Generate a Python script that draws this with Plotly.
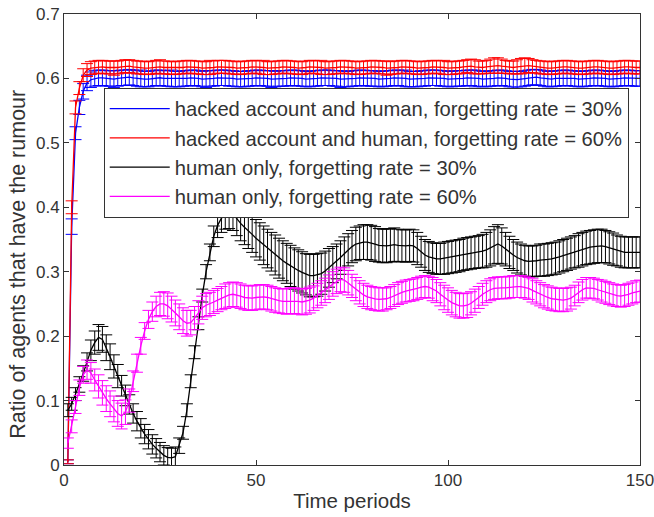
import plotly.graph_objects as go

periods = list(range(1, 151))

blue_mean = [
    0.005, 0.370, 0.515, 0.555, 0.580, 0.593, 0.598, 0.600, 0.601, 0.601,
    0.600, 0.600, 0.599, 0.600, 0.601, 0.601, 0.602, 0.601, 0.600, 0.600,
    0.599, 0.599, 0.600, 0.601, 0.601, 0.600, 0.600, 0.600, 0.599, 0.599,
    0.600, 0.600, 0.601, 0.601, 0.600, 0.599, 0.599, 0.600, 0.600, 0.601,
    0.601, 0.601, 0.600, 0.600, 0.599, 0.599, 0.599, 0.600, 0.600, 0.601,
    0.601, 0.600, 0.600, 0.599, 0.599, 0.600, 0.600, 0.600, 0.601, 0.601,
    0.600, 0.600, 0.599, 0.599, 0.600, 0.600, 0.601, 0.601, 0.601, 0.600,
    0.600, 0.599, 0.599, 0.599, 0.600, 0.600, 0.601, 0.601, 0.600, 0.600,
    0.600, 0.599, 0.599, 0.600, 0.600, 0.601, 0.601, 0.600, 0.600, 0.599,
    0.599, 0.599, 0.600, 0.600, 0.601, 0.601, 0.601, 0.600, 0.600, 0.599,
    0.599, 0.600, 0.600, 0.600, 0.601, 0.601, 0.600, 0.600, 0.599, 0.599,
    0.600, 0.600, 0.601, 0.601, 0.600, 0.599, 0.598, 0.598, 0.599, 0.600,
    0.601, 0.602, 0.602, 0.601, 0.600, 0.599, 0.599, 0.600, 0.600, 0.601,
    0.601, 0.600, 0.600, 0.599, 0.599, 0.600, 0.600, 0.601, 0.601, 0.600,
    0.600, 0.599, 0.599, 0.600, 0.600, 0.601, 0.601, 0.600, 0.600, 0.600,
]
blue_err = [
    0.003, 0.012, 0.010, 0.011, 0.012, 0.012, 0.012, 0.012, 0.012, 0.012,
    0.012, 0.012, 0.013, 0.012, 0.012, 0.012, 0.012, 0.012, 0.012, 0.013,
    0.012, 0.012, 0.012, 0.012, 0.012, 0.012, 0.012, 0.013, 0.012, 0.012,
    0.012, 0.012, 0.012, 0.012, 0.012, 0.012, 0.013, 0.012, 0.012, 0.012,
    0.012, 0.012, 0.012, 0.012, 0.012, 0.012, 0.012, 0.012, 0.012, 0.012,
    0.012, 0.012, 0.012, 0.013, 0.012, 0.012, 0.012, 0.012, 0.012, 0.012,
    0.012, 0.012, 0.012, 0.012, 0.012, 0.012, 0.012, 0.012, 0.012, 0.012,
    0.012, 0.013, 0.012, 0.012, 0.012, 0.012, 0.012, 0.012, 0.012, 0.012,
    0.012, 0.012, 0.012, 0.012, 0.012, 0.012, 0.012, 0.012, 0.013, 0.012,
    0.012, 0.012, 0.012, 0.012, 0.012, 0.012, 0.012, 0.012, 0.012, 0.012,
    0.012, 0.012, 0.012, 0.012, 0.012, 0.012, 0.013, 0.012, 0.012, 0.012,
    0.012, 0.012, 0.012, 0.012, 0.012, 0.012, 0.013, 0.013, 0.012, 0.012,
    0.012, 0.012, 0.012, 0.012, 0.012, 0.012, 0.012, 0.012, 0.012, 0.012,
    0.012, 0.012, 0.012, 0.012, 0.012, 0.012, 0.012, 0.012, 0.012, 0.012,
    0.012, 0.012, 0.012, 0.012, 0.012, 0.012, 0.012, 0.012, 0.012, 0.012,
]

red_mean = [
    0.005, 0.400, 0.555, 0.585, 0.605, 0.613, 0.616, 0.617, 0.618, 0.618,
    0.617, 0.617, 0.616, 0.617, 0.618, 0.619, 0.619, 0.618, 0.617, 0.617,
    0.616, 0.616, 0.617, 0.618, 0.618, 0.617, 0.617, 0.616, 0.616, 0.617,
    0.617, 0.618, 0.618, 0.617, 0.617, 0.616, 0.616, 0.617, 0.617, 0.618,
    0.618, 0.618, 0.617, 0.617, 0.616, 0.616, 0.617, 0.617, 0.618, 0.618,
    0.617, 0.617, 0.616, 0.616, 0.617, 0.617, 0.618, 0.618, 0.617, 0.617,
    0.616, 0.616, 0.617, 0.618, 0.618, 0.617, 0.617, 0.616, 0.616, 0.617,
    0.617, 0.618, 0.618, 0.617, 0.617, 0.616, 0.616, 0.617, 0.617, 0.618,
    0.618, 0.617, 0.617, 0.616, 0.616, 0.617, 0.617, 0.618, 0.618, 0.617,
    0.617, 0.616, 0.616, 0.617, 0.617, 0.618, 0.618, 0.617, 0.617, 0.616,
    0.616, 0.617, 0.617, 0.618, 0.619, 0.619, 0.618, 0.617, 0.617, 0.618,
    0.619, 0.620, 0.620, 0.619, 0.618, 0.617, 0.617, 0.618, 0.619, 0.620,
    0.620, 0.619, 0.618, 0.617, 0.617, 0.616, 0.616, 0.617, 0.617, 0.618,
    0.618, 0.617, 0.617, 0.616, 0.616, 0.617, 0.617, 0.618, 0.618, 0.617,
    0.617, 0.616, 0.616, 0.617, 0.617, 0.618, 0.618, 0.617, 0.617, 0.617,
]
red_err = [
    0.003, 0.010, 0.010, 0.010, 0.010, 0.010, 0.010, 0.010, 0.010, 0.010,
    0.010, 0.010, 0.011, 0.010, 0.010, 0.010, 0.010, 0.010, 0.010, 0.010,
    0.010, 0.010, 0.010, 0.010, 0.011, 0.010, 0.010, 0.010, 0.010, 0.010,
    0.010, 0.010, 0.010, 0.010, 0.010, 0.010, 0.010, 0.011, 0.010, 0.010,
    0.010, 0.010, 0.010, 0.010, 0.010, 0.010, 0.010, 0.010, 0.010, 0.010,
    0.010, 0.011, 0.010, 0.010, 0.010, 0.010, 0.010, 0.010, 0.010, 0.010,
    0.010, 0.010, 0.010, 0.010, 0.010, 0.010, 0.011, 0.010, 0.010, 0.010,
    0.010, 0.010, 0.010, 0.010, 0.010, 0.010, 0.010, 0.010, 0.010, 0.010,
    0.010, 0.010, 0.010, 0.011, 0.010, 0.010, 0.010, 0.010, 0.010, 0.010,
    0.010, 0.010, 0.010, 0.010, 0.010, 0.010, 0.010, 0.010, 0.011, 0.010,
    0.010, 0.010, 0.010, 0.010, 0.010, 0.011, 0.011, 0.010, 0.010, 0.010,
    0.011, 0.012, 0.012, 0.011, 0.010, 0.010, 0.010, 0.011, 0.012, 0.012,
    0.011, 0.010, 0.010, 0.010, 0.010, 0.010, 0.010, 0.010, 0.010, 0.010,
    0.010, 0.010, 0.010, 0.010, 0.010, 0.010, 0.010, 0.010, 0.010, 0.010,
    0.010, 0.010, 0.010, 0.010, 0.010, 0.010, 0.010, 0.010, 0.010, 0.010,
]

black_mean = [
    0.085, 0.095, 0.110, 0.125, 0.142, 0.160, 0.178, 0.190, 0.198, 0.195,
    0.182, 0.168, 0.153, 0.138, 0.123, 0.108, 0.094, 0.080, 0.068, 0.057,
    0.048, 0.040, 0.032, 0.026, 0.020, 0.015, 0.012, 0.011, 0.013, 0.030,
    0.050, 0.085, 0.130, 0.175, 0.220, 0.263, 0.300, 0.330, 0.355, 0.372,
    0.383, 0.390, 0.392, 0.390, 0.382, 0.375, 0.369, 0.364, 0.358, 0.352,
    0.347, 0.341, 0.336, 0.331, 0.326, 0.321, 0.317, 0.313, 0.309, 0.305,
    0.302, 0.299, 0.296, 0.294, 0.294, 0.295, 0.297, 0.301, 0.306, 0.311,
    0.316, 0.322, 0.328, 0.334, 0.339, 0.343, 0.345, 0.346, 0.346, 0.345,
    0.343, 0.341, 0.340, 0.340, 0.341, 0.342, 0.341, 0.340, 0.340, 0.341,
    0.340, 0.336, 0.331, 0.326, 0.323, 0.321, 0.320, 0.320, 0.321, 0.322,
    0.323, 0.324, 0.325, 0.327, 0.328, 0.329, 0.330, 0.331, 0.332, 0.334,
    0.337, 0.341, 0.343, 0.340, 0.335, 0.330, 0.326, 0.322, 0.319, 0.317,
    0.316, 0.316, 0.317, 0.318, 0.318, 0.319, 0.320, 0.321, 0.323, 0.325,
    0.327, 0.329, 0.331, 0.333, 0.335, 0.337, 0.338, 0.339, 0.340, 0.340,
    0.339, 0.337, 0.335, 0.333, 0.331, 0.330, 0.330, 0.330, 0.330, 0.330,
]
black_err = [
    0.010, 0.010, 0.010, 0.012, 0.012, 0.014, 0.016, 0.018, 0.020, 0.020,
    0.020, 0.020, 0.018, 0.018, 0.016, 0.016, 0.015, 0.015, 0.015, 0.015,
    0.015, 0.015, 0.015, 0.015, 0.015, 0.015, 0.015, 0.015, 0.015, 0.012,
    0.010, 0.010, 0.010, 0.010, 0.010, 0.010, 0.011, 0.013, 0.016, 0.019,
    0.022, 0.024, 0.025, 0.026, 0.026, 0.027, 0.027, 0.028, 0.028, 0.029,
    0.029, 0.030, 0.030, 0.030, 0.031, 0.031, 0.031, 0.031, 0.032, 0.032,
    0.032, 0.032, 0.032, 0.033, 0.033, 0.033, 0.032, 0.031, 0.030, 0.028,
    0.027, 0.026, 0.026, 0.025, 0.025, 0.026, 0.026, 0.027, 0.027, 0.027,
    0.027, 0.026, 0.026, 0.026, 0.026, 0.026, 0.025, 0.025, 0.025, 0.025,
    0.025, 0.025, 0.024, 0.024, 0.024, 0.024, 0.024, 0.024, 0.025, 0.025,
    0.025, 0.025, 0.025, 0.025, 0.025, 0.025, 0.025, 0.025, 0.026, 0.027,
    0.028, 0.029, 0.030, 0.028, 0.026, 0.025, 0.024, 0.024, 0.024, 0.024,
    0.024, 0.024, 0.024, 0.025, 0.025, 0.025, 0.025, 0.025, 0.025, 0.025,
    0.025, 0.025, 0.025, 0.026, 0.026, 0.026, 0.026, 0.026, 0.026, 0.026,
    0.025, 0.025, 0.025, 0.024, 0.024, 0.024, 0.024, 0.024, 0.024, 0.024,
]

magenta_mean = [
    0.034, 0.060, 0.090, 0.120, 0.140, 0.148, 0.143, 0.132, 0.122, 0.112,
    0.103, 0.095, 0.087, 0.080, 0.076, 0.082, 0.100, 0.130, 0.158, 0.185,
    0.208, 0.226, 0.238, 0.246, 0.250, 0.250, 0.247, 0.242, 0.236, 0.230,
    0.224, 0.220, 0.221, 0.228, 0.237, 0.244, 0.248, 0.250, 0.253, 0.256,
    0.259, 0.262, 0.264, 0.265, 0.264, 0.262, 0.260, 0.259, 0.259, 0.260,
    0.261, 0.261, 0.260, 0.258, 0.256, 0.255, 0.254, 0.254, 0.255, 0.255,
    0.254, 0.253, 0.254, 0.256, 0.259, 0.263, 0.267, 0.271, 0.276, 0.281,
    0.285, 0.288, 0.287, 0.283, 0.278, 0.273, 0.268, 0.264, 0.261, 0.259,
    0.258, 0.257, 0.257, 0.258, 0.260, 0.263, 0.266, 0.268, 0.270, 0.271,
    0.272, 0.274, 0.276, 0.277, 0.276, 0.273, 0.270, 0.265, 0.260, 0.256,
    0.252, 0.249, 0.247, 0.247, 0.248, 0.251, 0.255, 0.260, 0.265, 0.269,
    0.272, 0.274, 0.275, 0.275, 0.275, 0.276, 0.277, 0.277, 0.277, 0.276,
    0.274, 0.271, 0.268, 0.265, 0.262, 0.260, 0.258, 0.257, 0.256, 0.256,
    0.257, 0.259, 0.263, 0.268, 0.272, 0.275, 0.275, 0.274, 0.272, 0.270,
    0.268, 0.266, 0.264, 0.263, 0.262, 0.263, 0.265, 0.267, 0.269, 0.270,
]
magenta_err = [
    0.008, 0.010, 0.010, 0.012, 0.013, 0.015, 0.016, 0.017, 0.018, 0.019,
    0.020, 0.020, 0.020, 0.020, 0.020, 0.019, 0.018, 0.016, 0.014, 0.013,
    0.013, 0.014, 0.015, 0.016, 0.018, 0.019, 0.020, 0.020, 0.020, 0.020,
    0.020, 0.020, 0.019, 0.018, 0.018, 0.018, 0.018, 0.018, 0.018, 0.018,
    0.018, 0.019, 0.019, 0.019, 0.019, 0.019, 0.019, 0.019, 0.019, 0.019,
    0.019, 0.019, 0.019, 0.019, 0.019, 0.019, 0.019, 0.020, 0.020, 0.020,
    0.020, 0.020, 0.020, 0.020, 0.019, 0.019, 0.019, 0.019, 0.019, 0.019,
    0.019, 0.019, 0.019, 0.019, 0.018, 0.018, 0.018, 0.018, 0.018, 0.018,
    0.018, 0.018, 0.018, 0.017, 0.017, 0.017, 0.017, 0.017, 0.017, 0.017,
    0.017, 0.017, 0.017, 0.017, 0.017, 0.018, 0.018, 0.018, 0.019, 0.019,
    0.019, 0.019, 0.019, 0.019, 0.019, 0.018, 0.018, 0.017, 0.017, 0.017,
    0.017, 0.017, 0.017, 0.017, 0.017, 0.017, 0.017, 0.017, 0.017, 0.017,
    0.017, 0.018, 0.018, 0.018, 0.018, 0.018, 0.018, 0.018, 0.018, 0.018,
    0.018, 0.017, 0.016, 0.016, 0.016, 0.016, 0.016, 0.016, 0.016, 0.017,
    0.017, 0.017, 0.017, 0.017, 0.017, 0.017, 0.017, 0.017, 0.017, 0.017,
]

series_names = [
    "hacked account and human, forgetting rate = 30%",
    "hacked account and human, forgetting rate = 60%",
    "human only, forgetting rate = 30%",
    "human only, forgetting rate = 60%",
]
series_colors = ["#0000ff", "#ff0000", "#000000", "#ff00ff"]
series_means = [blue_mean, red_mean, black_mean, magenta_mean]
series_errs = [blue_err, red_err, black_err, magenta_err]

x_ticks = [0, 50, 100, 150]
y_ticks = [0, 0.1, 0.2, 0.3, 0.4, 0.5, 0.6, 0.7]
x_title = "Time periods"
y_title = "Ratio of agents that have the rumour"

FONT = "Liberation Sans, Arial, sans-serif"
TXT = "#333333"

fig = go.Figure()
for name, color, mean, err in zip(series_names, series_colors, series_means, series_errs):
    fig.add_trace(go.Scatter(
        x=periods, y=mean, name=name, mode="lines",
        line=dict(color=color, width=1.3),
        error_y=dict(type="data", array=err, visible=True, color=color, thickness=1, width=6),
    ))

fig.add_annotation(
    text=y_title, xref="paper", yref="paper", x=-0.08, y=0.446,
    xanchor="center", yanchor="middle", textangle=-90, showarrow=False,
    font=dict(family=FONT, size=21.5, color=TXT),
)

fig.update_layout(
    width=654, height=517,
    margin=dict(l=64, r=14, t=14, b=52, autoexpand=False),
    paper_bgcolor="white", plot_bgcolor="white",
    font=dict(family=FONT, color=TXT, size=17),
    showlegend=True,
    legend=dict(
        x=0.069, y=0.836, xanchor="left", yanchor="top",
        bgcolor="white", bordercolor="#333333", borderwidth=1,
        font=dict(family=FONT, size=20.2, color=TXT),
        itemwidth=60, tracegroupgap=0,
    ),
    xaxis=dict(
        range=[0, 150], tickmode="array", tickvals=x_ticks,
        ticks="inside", ticklen=5, tickcolor="#333333",
        showline=True, linecolor="#333333", linewidth=1, mirror="ticks",
        showgrid=False, zeroline=False, automargin=False,
        ticklabeloverflow="allow",
        tickfont=dict(size=17, color=TXT),
        title=dict(text=x_title, font=dict(size=20.5, color=TXT), standoff=4),
    ),
    yaxis=dict(
        range=[0, 0.7], tickmode="array", tickvals=y_ticks,
        ticks="inside", ticklen=5, tickcolor="#333333",
        showline=True, linecolor="#333333", linewidth=1, mirror="ticks",
        showgrid=False, zeroline=False, automargin=False,
        ticklabeloverflow="allow",
        tickfont=dict(size=17, color=TXT),
    ),
)

fig.write_html(
    "out.html",
    config={"displayModeBar": False},
    post_script="document.body.style.margin='0px';",
)
